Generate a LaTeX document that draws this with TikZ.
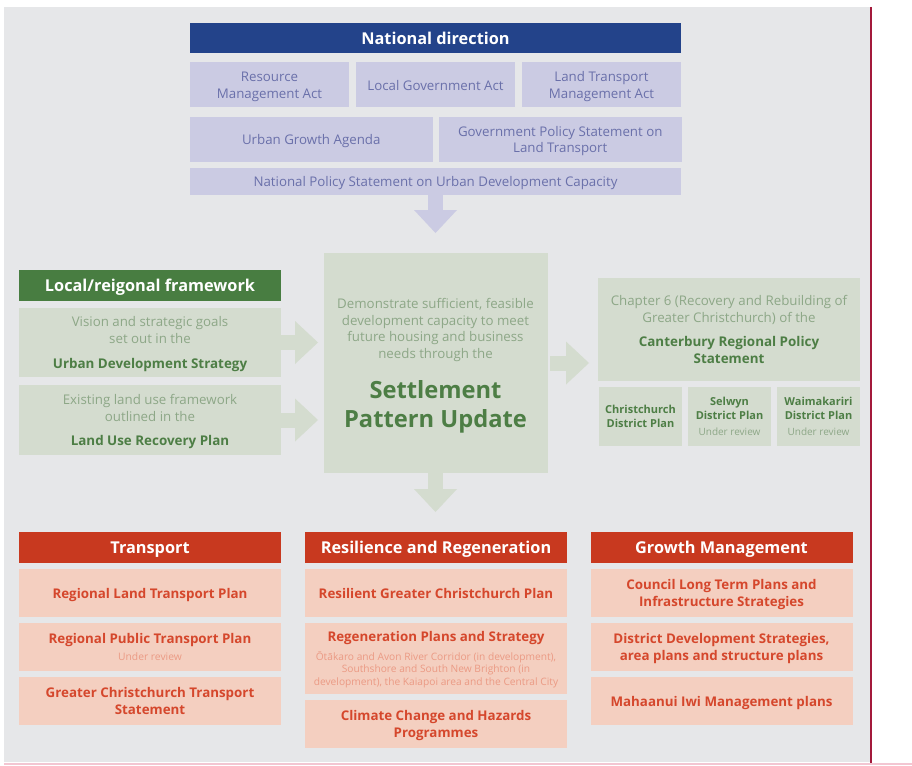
\documentclass[tikz,border=0pt]{standalone}
\usepackage{fontspec}
\setmainfont{Open Sans}
\usetikzlibrary{positioning}
\usetikzlibrary{calc}
\usetikzlibrary{arrows.meta}

\definecolor{paper}{HTML}{E6E7E9}
\definecolor{navy}{HTML}{23438A}
\definecolor{lilac}{HTML}{CBCBE3}
\definecolor{lilactext}{HTML}{6A70AA}
\definecolor{moss}{HTML}{487D41}
\definecolor{mossfill}{HTML}{D4DCCF}
\definecolor{mosslight}{HTML}{8DA787}
\definecolor{mosstext}{HTML}{4D7E45}
\definecolor{brick}{HTML}{C8391F}
\definecolor{peach}{HTML}{F4CFC0}
\definecolor{bricktext}{HTML}{D5472C}
\definecolor{peachtext}{HTML}{EB9A84}
\definecolor{wine}{HTML}{A3193B}
\definecolor{blush}{HTML}{F3C6D2}

\begin{document}
\begin{tikzpicture}[x=1pt,y=-1pt,inner sep=0pt,outer sep=0pt,align=center,text depth=0pt,
					font=\fontsize{13.3}{16.7}\selectfont]
					\tikzstyle{head}=[text=white,font=\fontsize{16.3}{18}\selectfont\bfseries,minimum width=262pt,minimum height=31pt]
					\tikzstyle{lilacbox}=[fill=lilac,text=lilactext,minimum height=45pt]
					\tikzstyle{mossbox}=[fill=mossfill,text=mosslight,minimum width=262pt]
					\tikzstyle{smallbox}=[fill=mossfill,text=mosstext,font=\fontsize{11}{14}\selectfont\bfseries,minimum width=83pt,minimum height=59pt]
					\tikzstyle{peachbox}=[fill=peach,text=bricktext,font=\fontsize{13.35}{16.7}\selectfont\bfseries,minimum width=262pt,minimum height=48pt]
					\tikzstyle{fat}=[line width=15pt,-{Triangle[length=23pt,width=43pt,line width=0pt]}]
					
					\useasboundingbox (0,0) rectangle (912,765);
					\fill[paper] (4,7) rectangle (871,762);
					\draw[wine,line width=1.5pt] (871,7) -- (871,765);
					\draw[blush,line width=2pt] (4,764) -- (912,764);
					
					% national direction
					\node[head,fill=navy,minimum width=491pt,minimum height=30pt,anchor=north west] (N_0) at (190,23) {National direction};
					\node[lilacbox,minimum width=159pt,anchor=north west] (N_1) at (190,62.5) {Resource\\Management Act};
					\node[lilacbox,minimum width=159pt] (N_2) [right=7pt of N_1] {Local Government Act};
					\node[lilacbox,minimum width=159pt] (N_3) [right=7pt of N_2] {Land Transport\\Management Act};
					\node[lilacbox,minimum width=242.5pt,anchor=north west] (N_4) at (190,117) {Urban Growth Agenda};
					\node[lilacbox,minimum width=242.5pt] (N_5) [right=6.5pt of N_4] {Government Policy Statement on\\Land Transport};
					\node[lilacbox,minimum width=491pt,minimum height=27.5pt,anchor=north west] (N_6) at (190,167.5) {National Policy Statement on Urban Development Capacity};
					
					% local/regional framework
					\node[head,fill=moss,anchor=north west] (L_0) at (19,270) {Local/reigonal framework};
					\node[mossbox,minimum height=69pt] (L_1) [below=7pt of L_0] {Vision and strategic goals\\set out in the\\[8pt]\textcolor{mosstext}{\fontsize{13.4}{16.7}\selectfont\bfseries Urban Development Strategy}};
					\node[mossbox,minimum height=70pt] (L_2) [below=8pt of L_1] {Existing land use framework\\outlined in the\\[8pt]\textcolor{mosstext}{\fontsize{13.4}{16.7}\selectfont\bfseries Land Use Recovery Plan}};
					
					% settlement pattern update
					\node[mossbox,minimum width=224pt,minimum height=220pt,anchor=north west] (S_0) at (323.5,253) {Demonstrate sufficient, feasible\\development capacity to meet\\future housing and business\\needs through the\\[18pt]\textcolor{mosstext}{\fontsize{23.7}{29}\selectfont\bfseries Settlement}\\[10pt]\textcolor{mosstext}{\fontsize{23.7}{29}\selectfont\bfseries Pattern Update}};
					
					% regional policy statement and district plans
					\node[mossbox,minimum height=103pt,anchor=north west] (C_0) at (598,278) {Chapter 6 (Recovery and Rebuilding of\\Greater Christchurch) of the\\[8pt]\textcolor{mosstext}{\fontsize{13.4}{16.7}\selectfont\bfseries Canterbury Regional Policy}\\\textcolor{mosstext}{\fontsize{13.4}{16.7}\selectfont\bfseries Statement}};
					\node[smallbox,anchor=north west] (C_1) at (599,387) {Christchurch\\District Plan};
					\node[smallbox] (C_2) [right=6pt of C_1] {Selwyn\\District Plan\\[2pt]\textcolor{mosslight}{\fontsize{10}{12}\selectfont\mdseries Under review}};
					\node[smallbox] (C_3) [right=6pt of C_2] {Waimakariri\\District Plan\\[2pt]\textcolor{mosslight}{\fontsize{10}{12}\selectfont\mdseries Under review}};
					
					% transport
					\node[head,fill=brick,anchor=north west] (T_0) at (19,532) {Transport};
					\node[peachbox] (T_1) [below=6pt of T_0] {Regional Land Transport Plan};
					\node[peachbox] (T_2) [below=6pt of T_1] {Regional Public Transport Plan\\[1pt]\textcolor{peachtext}{\fontsize{10.3}{12}\selectfont\mdseries Under review}};
					\node[peachbox] (T_3) [below=6pt of T_2] {Greater Christchurch Transport\\Statement};
					
					% resilience and regeneration
					\node[head,fill=brick,anchor=north west] (R_0) at (305,532) {Resilience and Regeneration};
					\node[peachbox] (R_1) [below=6pt of R_0] {Resilient Greater Christchurch Plan};
					\node[peachbox,minimum height=71pt,font=\fontsize{10.2}{12.5}\selectfont\bfseries] (R_2) [below=6pt of R_1] {{\fontsize{13.35}{16.7}\selectfont Regeneration Plans and Strategy}\\[6pt]\textcolor{peachtext}{\mdseries Ōtākaro and Avon River Corridor (in development),}\\\textcolor{peachtext}{\mdseries Southshore and South New Brighton (in}\\\textcolor{peachtext}{\mdseries development), the Kaiapoi area and the Central City}};
					\node[peachbox] (R_3) [below=6pt of R_2] {Climate Change and Hazards\\Programmes};
					
					% growth management
					\node[head,fill=brick,anchor=north west] (G_0) at (590.5,532) {Growth Management};
					\node[peachbox] (G_1) [below=6pt of G_0] {Council Long Term Plans and\\Infrastructure Strategies};
					\node[peachbox] (G_2) [below=6pt of G_1] {District Development Strategies,\\area plans and structure plans};
					\node[peachbox] (G_3) [below=6pt of G_2] {Mahaanui Iwi Management plans};
					
					% block arrows
					\draw[fat,lilac,shorten >=20pt] (N_6.south) -- (N_6.south |- S_0.north);
					\draw[fat,mossfill,shorten >=5.5pt] (L_1.east) -- (L_1.east -| S_0.west);
					\draw[fat,mossfill,shorten >=5.5pt] (L_2.east) -- (L_2.east -| S_0.west);
					\draw[fat,mossfill,shorten <=2.5pt,shorten >=9pt] (S_0.east) -- (S_0.east -| C_0.west);
					\draw[fat,mossfill,shorten >=20pt] (S_0.south) -- (S_0.south |- R_0.north);
\end{tikzpicture}
\end{document}
